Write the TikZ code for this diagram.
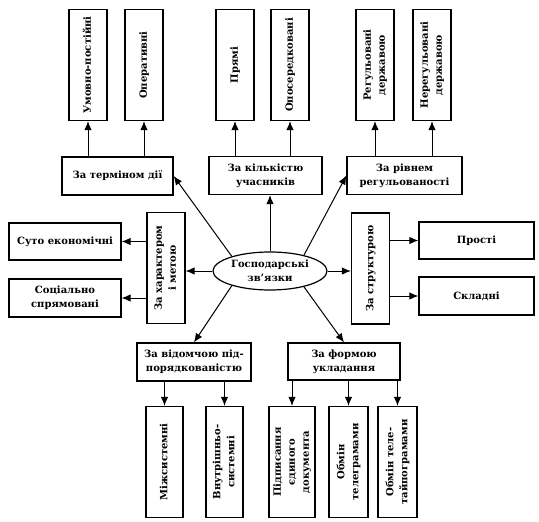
\documentclass[tikz,border=0pt]{standalone}
\usepackage{fontspec}
\setmainfont{DejaVu Serif}
\usepackage{graphicx}
\usepackage{tikz}
\usetikzlibrary{arrows.meta, calc, shapes.geometric}

\newcommand{\vtxt}[1]{\rotatebox{90}{\begin{tabular}{@{}c@{}}#1\end{tabular}}}

\tikzset{
  box/.style={draw, line width=1.2pt, align=center, inner sep=1pt,
    font=\bfseries\fontsize{10}{14}\selectfont},
  hbox/.style={box, minimum width=113pt, minimum height=38pt},
  vbox/.style={box, minimum width=38pt, minimum height=111pt},
  link/.style={->, line width=1pt},
}

\begin{document}
\begin{tikzpicture}[x=1pt, y=-1pt, >={Latex[length=9pt,width=7.5pt]}]
  \useasboundingbox (0,0) rectangle (539,522);

  % центр
  \node[box, ellipse, minimum width=114pt, minimum height=38pt, inner sep=0pt]
    (centr) at (270,271) {Господарські\\зв’язки};

  % верхні блоки
  \node[hbox, minimum width=111pt] (termin) at (117.5,176) {За терміном дії};
  \node[hbox] (kilk) at (265.5,175.5) {За кількістю\\учасників};
  \node[hbox, minimum width=115pt] (riven) at (404.5,175.5) {За рівнем\\регульованості};

  \node[vbox] (umovno) at (88,65) {\vtxt{Умовно-постійні}};
  \node[vbox] (operat) at (144,65) {\vtxt{Оперативні}};
  \node[vbox] (pryami) at (235,65) {\vtxt{Прямі}};
  \node[vbox] (oposer) at (290,65) {\vtxt{Опосередковані}};
  \node[vbox] (regul) at (375,65) {\vtxt{Регульовані\\державою}};
  \node[vbox] (nereg) at (432,65) {\vtxt{Нерегульовані\\державою}};

  % ліворуч і праворуч
  \node[vbox] (kharakter) at (166,268) {\vtxt{За характером\\і метою}};
  \node[hbox, minimum width=112pt, minimum height=37pt] (suto) at (65,241.5) {Суто економічні};
  \node[hbox, minimum width=112pt] (sotsial) at (65,298) {Соціально\\спрямовані};

  \node[vbox] (struktura) at (370.5,268.5) {\vtxt{За структурою}};
  \node[hbox, minimum width=115pt, minimum height=37pt] (prosti) at (476.5,240.5) {Прості};
  \node[hbox, minimum width=115pt] (skladni) at (476.5,296) {Складні};

  % нижні блоки
  \node[hbox, minimum width=114pt] (vidomcha) at (194,362) {За відомчою під-\\порядкованістю};
  \node[hbox, minimum width=112pt, minimum height=37pt] (forma) at (344,361.5) {За формою\\укладання};

  \node[vbox, minimum width=37pt] (mizh) at (164.5,462) {\vtxt{Міжсистемні}};
  \node[vbox, minimum width=37pt] (vnutr) at (224.5,462) {\vtxt{Внутрішньо-\\системні}};
  \node[vbox, minimum width=46pt] (pidpys) at (292,462) {\vtxt{Підписання\\єдиного\\документа}};
  \node[vbox, minimum width=39pt] (telegr) at (348.5,462) {\vtxt{Обмін\\телеграмами}};
  \node[vbox, minimum width=39pt] (teletai) at (397.5,462) {\vtxt{Обмін теле-\\тайпограмами}};

  % стрілки від центру
  \draw[link] (centr.159) -- (termin.east);
  \draw[link] (centr.north) -- (centr.north |- kilk.south);
  \draw[link] (centr.25) -- (riven.west);
  \draw[link] (centr.west) -- (centr.west -| kharakter.east);
  \draw[link] (centr.east) -- (centr.east -| struktura.west);
  \draw[link] (centr.-159) -- (vidomcha.north);
  \draw[link] (centr.-25) -- (forma.north);

  % стрілки до видів
  \draw[link] (termin.north -| umovno) -- (umovno.south);
  \draw[link] (termin.north -| operat) -- (operat.south);
  \draw[link] (kilk.north -| pryami) -- (pryami.south);
  \draw[link] (kilk.north -| oposer) -- (oposer.south);
  \draw[link] (riven.north -| regul) -- (regul.south);
  \draw[link] (riven.north -| nereg) -- (nereg.south);

  \draw[link] (kharakter.west |- suto) -- (suto.east);
  \draw[link] (kharakter.west |- sotsial) -- (sotsial.east);
  \draw[link] (struktura.east |- prosti) -- (prosti.west);
  \draw[link] (struktura.east |- skladni) -- (skladni.west);

  \draw[link] (vidomcha.south -| mizh) -- (mizh.north);
  \draw[link] (vidomcha.south -| vnutr) -- (vnutr.north);
  \draw[link] (forma.south -| pidpys) -- (pidpys.north);
  \draw[link] (forma.south -| telegr) -- (telegr.north);
  \draw[link] (forma.south -| teletai) -- (teletai.north);
\end{tikzpicture}
\end{document}
